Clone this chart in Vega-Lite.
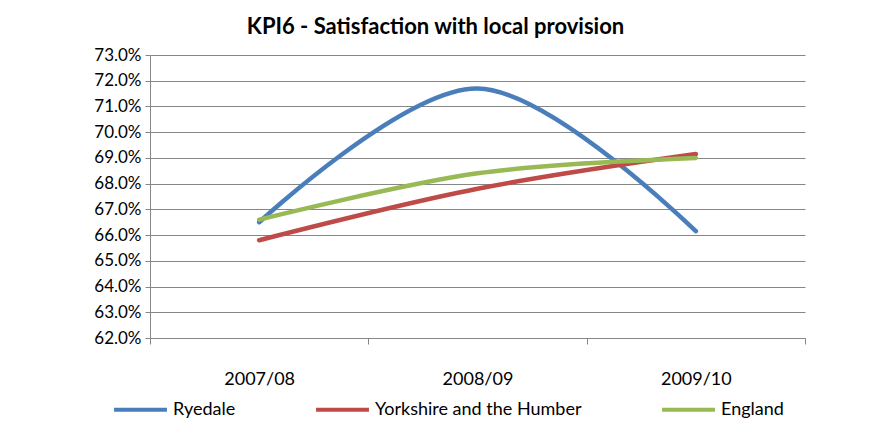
{
  "$schema": "https://vega.github.io/schema/vega-lite/v6.json",
  "width": 655,
  "height": 283,
  "autosize": {"type": "none"},
  "padding": {"left": 150, "top": 55, "right": 65, "bottom": 103},
  "background": "white",
  "title": {
    "text": "KPI6 - Satisfaction with local provision",
    "font": "Lato",
    "fontSize": 22,
    "fontWeight": "bold",
    "color": "black",
    "anchor": "middle",
    "dx": -42,
    "offset": 7
  },
  "data": {
    "values": [
      {"year": "2007/08", "series": "Ryedale", "value": 0.665},
      {"year": "2008/09", "series": "Ryedale", "value": 0.717},
      {"year": "2009/10", "series": "Ryedale", "value": 0.6615},
      {"year": "2007/08", "series": "Yorkshire and the Humber", "value": 0.658},
      {"year": "2008/09", "series": "Yorkshire and the Humber", "value": 0.678},
      {"year": "2009/10", "series": "Yorkshire and the Humber", "value": 0.6915},
      {"year": "2007/08", "series": "England", "value": 0.666},
      {"year": "2008/09", "series": "England", "value": 0.684},
      {"year": "2009/10", "series": "England", "value": 0.690}
    ]
  },
  "mark": {"type": "line", "interpolate": "catmull-rom", "strokeWidth": 4.5, "strokeCap": "round"},
  "encoding": {
    "x": {
      "field": "year",
      "type": "nominal",
      "bandPosition": 0.5,
      "scale": {"type": "band", "paddingInner": 0, "paddingOuter": 0},
      "axis": {
        "title": null,
        "labelAngle": 0,
        "tickBand": "extent",
        "tickSize": 6,
        "tickColor": "#868686",
        "domainColor": "#868686",
        "labelPadding": 26,
        "labelFont": "Lato",
        "labelFontSize": 18,
        "labelColor": "black",
        "grid": false
      }
    },
    "y": {
      "field": "value",
      "type": "quantitative",
      "scale": {"domain": [0.62, 0.73], "nice": false, "zero": false},
      "axis": {
        "title": null,
        "values": [0.62, 0.63, 0.64, 0.65, 0.66, 0.67, 0.68, 0.69, 0.70, 0.71, 0.72, 0.73],
        "format": ".1%",
        "grid": true,
        "gridColor": "#868686",
        "gridWidth": 1,
        "gridOpacity": 1,
        "domainColor": "#868686",
        "tickColor": "#868686",
        "tickSize": 5,
        "labelPadding": 4,
        "labelFont": "Lato",
        "labelFontSize": 17,
        "labelColor": "black"
      }
    },
    "color": {
      "field": "series",
      "type": "nominal",
      "sort": ["Ryedale", "Yorkshire and the Humber", "England"],
      "scale": {
        "domain": ["Ryedale", "Yorkshire and the Humber", "England"],
        "range": ["#4A7EBB", "#BE4B48", "#98B954"]
      },
      "legend": {
        "title": null,
        "orient": "none",
        "legendX": -38,
        "legendY": 326,
        "direction": "horizontal",
        "symbolType": "stroke",
        "symbolSize": 2800,
        "symbolStrokeWidth": 4,
        "labelFont": "Lato",
        "labelFontSize": 18,
        "labelColor": "black",
        "labelOffset": 4,
        "labelLimit": 400,
        "columnPadding": 72
      }
    }
  },
  "config": {"view": {"stroke": null}}
}
